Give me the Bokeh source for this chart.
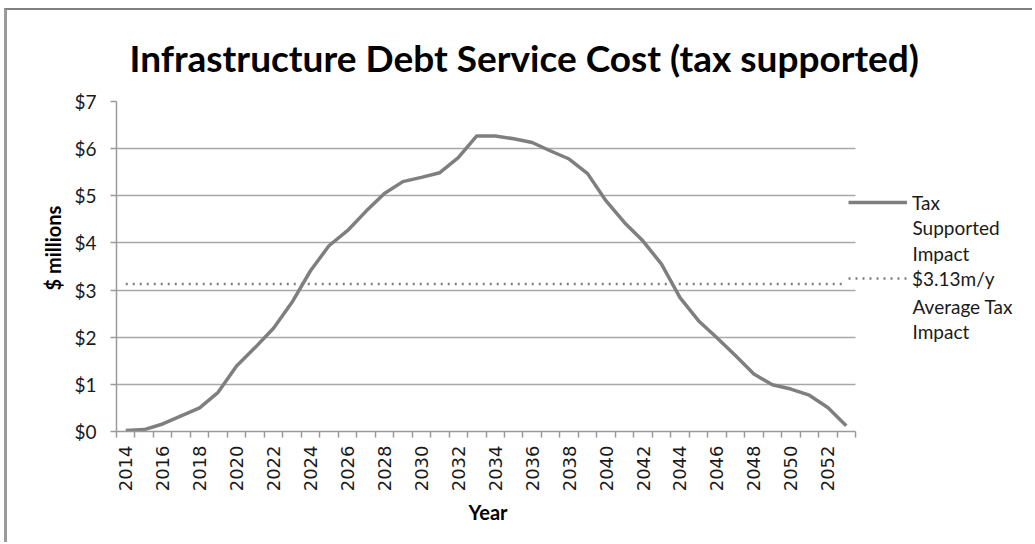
import math
from bokeh.plotting import figure
from bokeh.models import (Range1d, LinearAxis, FixedTicker, CustomJSTickFormatter, Grid, Title,
                          NumeralTickFormatter, Label, Legend, LegendItem, ColumnDataSource)
from bokeh.embed import file_html
from bokeh.resources import INLINE

# ---------------- data ----------------
years = list(range(2014, 2054))
tax_impact = [0.02, 0.04, 0.16, 0.33, 0.50, 0.83, 1.39, 1.78, 2.19, 2.74,
              3.41, 3.94, 4.26, 4.67, 5.05, 5.30, 5.39, 5.49, 5.81, 6.27,
              6.27, 6.21, 6.13, 5.95, 5.78, 5.47, 4.89, 4.43, 4.04, 3.55,
              2.84, 2.35, 1.99, 1.61, 1.22, 0.99, 0.90, 0.77, 0.51, 0.12]
average_impact = 3.13
y_ticks = list(range(0, 8))
title_text = "Infrastructure Debt Service Cost (tax supported)"
y_label = "$ millions"
x_label = "Year"
series_label = ["Tax", "Supported", "Impact"]
average_label = ["$3.13m/y", "Average Tax", "Impact"]

# ---------------- layout constants ----------------
W, H = 1028, 534
BL, BT, BB = 109, 90, 113          # borders
FRAME_W = W - BL
PLOT_PX = 739                        # width of the category area in px
n = len(years)
x_end = n * FRAME_W / PLOT_PX

FONT = "Lato"
GRAY_LINE = "#7f7f7f"
GRID = "#a8a8a8"
AXIS = "#9a9a9a"
TXT = "#1a1a1a"

src = ColumnDataSource(dict(x=[i + 0.5 for i in range(n)], year=years, v=tax_impact))
avg_src = ColumnDataSource(dict(x=[0.5, n - 0.5], v=[average_impact, average_impact]))

p = figure(width=W, height=H, output_backend="svg", toolbar_location=None,
           x_range=Range1d(0, x_end), y_range=Range1d(0, 7),
           x_axis_type=None, y_axis_type=None,
           min_border_left=BL, min_border_top=BT, min_border_bottom=BB, min_border_right=0)
p.outline_line_color = None
p.background_fill_color = "white"
p.border_fill_color = "white"
p.styles = {"border-left": "3px solid #9a9a9a", "border-top": "2px solid #808080",
            "margin-left": "4px", "margin-top": "8px"}

# title
p.title = Title(text=title_text, align="left", offset=13, standoff=44,
                text_font=FONT, text_font_size="37px", text_font_style="bold",
                text_color="#000000")

# y axis
yax = LinearAxis(ticker=FixedTicker(ticks=y_ticks), formatter=NumeralTickFormatter(format="$0"))
yax.axis_line_color = AXIS
yax.axis_line_width = 1.5
yax.major_tick_line_color = AXIS
yax.major_tick_line_width = 1.5
yax.major_tick_out = 6
yax.major_tick_in = 0
yax.minor_tick_line_color = None
yax.major_label_standoff = 14
yax.major_label_text_font = FONT
yax.major_label_text_font_size = "19px"
yax.major_label_text_color = TXT
p.add_layout(yax, "left")

# y axis title (as a side title so it can sit slightly above the centre)
p.add_layout(Title(text=y_label, align="left", offset=141, standoff=14,
                   text_font=FONT, text_font_size="20px", text_font_style="bold",
                   text_color="#000000"), "left")

# x axis (category style: ticks between categories, labels at every other category)
xax = LinearAxis(ticker=FixedTicker(ticks=[i + 0.5 for i in range(0, n, 2)],
                                    minor_ticks=list(range(0, n + 1))),
                 formatter=CustomJSTickFormatter(args=dict(years=years),
                                                 code="return String(years[Math.floor(tick)]);"))
xax.bounds = (0, n)
xax.axis_line_color = AXIS
xax.axis_line_width = 1.5
xax.major_tick_line_color = None
xax.major_tick_out = 6
xax.major_tick_in = 0
xax.minor_tick_line_color = AXIS
xax.minor_tick_line_width = 1.5
xax.minor_tick_out = 6
xax.minor_tick_in = 0
xax.major_label_orientation = math.pi / 2
xax.major_label_standoff = 8
xax.major_label_text_font = "DejaVu Sans"
xax.major_label_text_font_size = "18px"
xax.major_label_text_color = TXT
p.add_layout(xax, "below")

p.add_layout(Title(text=x_label, align="left", offset=352, standoff=7,
                   text_font=FONT, text_font_size="20px", text_font_style="bold",
                   text_color="#000000"), "below")

# grid
g = Grid(dimension=1, ticker=yax.ticker)
g.grid_line_color = GRID
g.grid_line_width = 1.5
g.cross_bounds = (0, n)
p.add_layout(g)

r_main = p.line("x", "v", source=src, line_color=GRAY_LINE, line_width=3.5, line_join="round")
r_avg = p.line("x", "v", source=avg_src, line_color=GRAY_LINE, line_width=2.5, line_dash="2 5")

# legend (first line of each entry), continuation lines as labels
legend = Legend(items=[LegendItem(label=series_label[0], renderers=[r_main]),
                       LegendItem(label=average_label[0], renderers=[r_avg])],
                location=(732, 141))
legend.glyph_width = 59
legend.glyph_height = 24
legend.label_height = 24
legend.label_standoff = 5
legend.padding = 0
legend.margin = 0
legend.spacing = 52
legend.border_line_color = None
legend.background_fill_alpha = 0
legend.label_text_font = FONT
legend.label_text_font_size = "19px"
legend.label_text_color = TXT
legend.label_text_baseline = "middle"
p.add_layout(legend, "center")

cont = [(series_label[1], 227), (series_label[2], 253),
        (average_label[1], 306), (average_label[2], 331)]
for txt, py in cont:
    p.add_layout(Label(text=txt, x=796, y=431 - py, x_units="screen", y_units="screen",
                       text_font=FONT, text_font_size="19px", text_color=TXT,
                       text_align="left", text_baseline="middle"))

open("out.html", "w").write(file_html(p, INLINE))
